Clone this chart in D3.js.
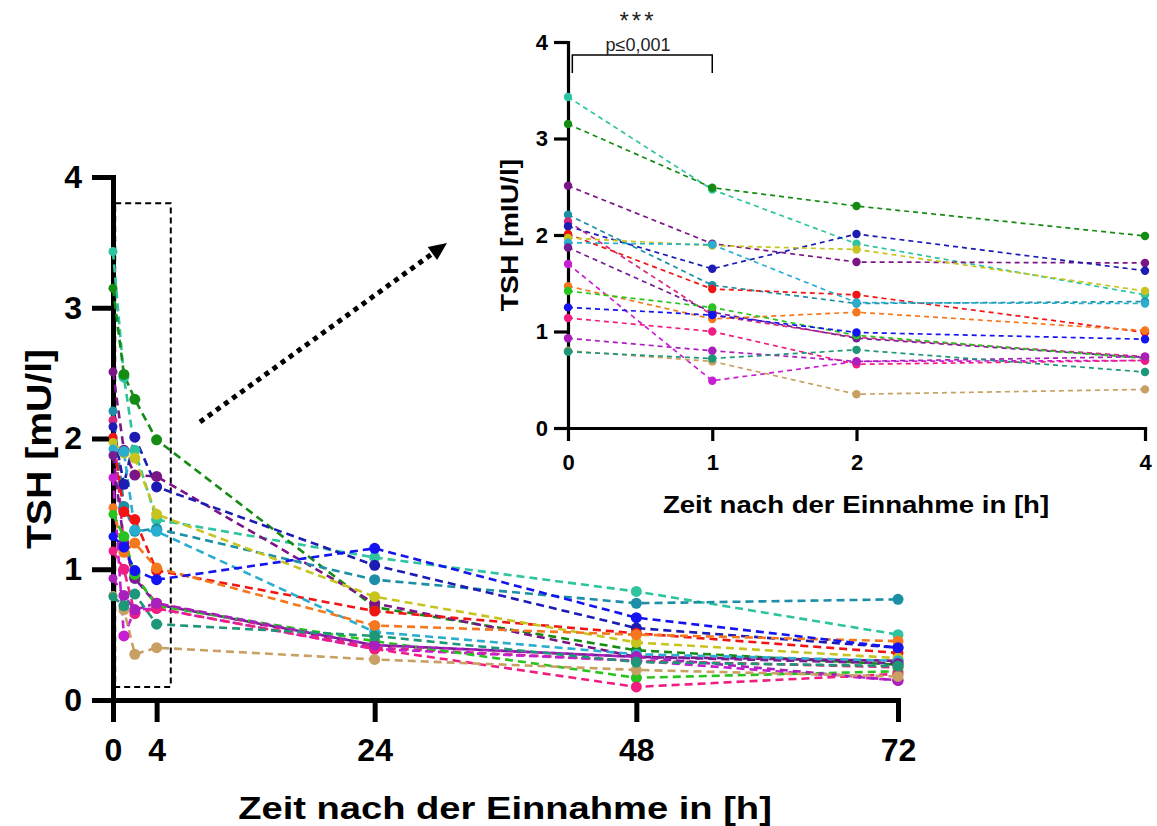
<!DOCTYPE html>
<html>
<head>
<meta charset="utf-8">
<script src="https://cdn.jsdelivr.net/npm/d3@7"></script>
<style>
  body { margin: 0; background: #fff; }
  svg { display: block; }
  text { font-family: "Liberation Sans", Arial, Helvetica, sans-serif; }
</style>
</head>
<body>
<svg id="chart" width="1157" height="826"></svg>
<script>
// Sampling times (hours after intake)
const hours = [0, 1, 2, 4, 24, 48, 72];
const insetHours = [0, 1, 2, 4];
const mainXTicks = [0, 4, 24, 48, 72];
const insetXTicks = [0, 1, 2, 4];
const yTicks = [0, 1, 2, 3, 4];

// One colour per subject
const subjectColors = [
  "#2ec4a0", "#148c14", "#7b1585", "#1b8fa5", "#d6277f", "#1c1cb4",
  "#f01414", "#c8c31e", "#2aaed0", "#781c96", "#c81ed2", "#f5781e",
  "#28c31e", "#1414f0", "#f01e82", "#aa1ebe", "#c8a064", "#1e9678"
];

// TSH [mU/l] per subject at 0, 1, 2, 4, 24, 48, 72 h
const subjectTSH = [
  [3.43, 2.47, 1.91, 1.38, 1.09, 0.83, 0.50],
  [3.15, 2.49, 2.30, 1.99, 0.71, 0.38, 0.27],
  [2.51, 1.91, 1.72, 1.71, 0.74, 0.33, 0.30],
  [2.21, 1.48, 1.29, 1.31, 0.92, 0.74, 0.77],
  [2.14, 1.17, 0.94, 0.74, 0.40, 0.30, 0.25],
  [2.09, 1.65, 2.01, 1.63, 1.03, 0.55, 0.40],
  [2.01, 1.44, 1.38, 0.99, 0.68, 0.51, 0.36],
  [1.97, 1.89, 1.85, 1.42, 0.79, 0.44, 0.32],
  [1.92, 1.90, 1.30, 1.29, 0.52, 0.35, 0.30],
  [1.87, 1.20, 0.93, 0.73, 0.42, 0.33, 0.28],
  [1.70, 0.49, 0.69, 0.70, 0.39, 0.30, 0.15],
  [1.47, 1.13, 1.20, 1.01, 0.57, 0.50, 0.45],
  [1.42, 1.25, 0.96, 0.72, 0.45, 0.17, 0.22],
  [1.25, 1.17, 0.99, 0.92, 1.16, 0.63, 0.40],
  [1.14, 1.00, 0.66, 0.70, 0.39, 0.10, 0.20],
  [0.93, 0.80, 0.69, 0.74, 0.42, 0.33, 0.15],
  [0.80, 0.69, 0.35, 0.40, 0.31, 0.23, 0.18],
  [0.79, 0.72, 0.81, 0.58, 0.49, 0.29, 0.26]
];

const svg = d3.select("#chart");

// ---------- main panel ----------
const x = d3.scaleLinear().domain([0, 72]).range([113, 898]);
const y = d3.scaleLinear().domain([0, 4]).range([700, 177]);

function styleAxis(g, width, fontSize) {
  g.select(".domain").attr("stroke", "#000").attr("stroke-width", width).attr("stroke-linecap", "square");
  g.selectAll(".tick line").attr("stroke", "#000").attr("stroke-width", width);
  g.selectAll(".tick text").attr("fill", "#000").attr("font-size", fontSize).attr("font-weight", "bold");
}

const gx = svg.append("g").attr("transform", `translate(0,${y(0)})`)
  .call(d3.axisBottom(x).tickValues(mainXTicks).tickSize(22).tickSizeOuter(0).tickPadding(16).tickFormat(d3.format("d")));
styleAxis(gx, 5, 32);
const gy = svg.append("g").attr("transform", `translate(${x(0)},0)`)
  .call(d3.axisLeft(y).tickValues(yTicks).tickSize(21).tickSizeOuter(0).tickPadding(10).tickFormat(d3.format("d")));
styleAxis(gy, 5, 32);

// zoom window around the first four hours
svg.append("rect")
  .attr("x", x(0.2)).attr("y", y(3.8))
  .attr("width", x(5.3) - x(0.2)).attr("height", y(0.1) - y(3.8))
  .attr("fill", "none").attr("stroke", "#000").attr("stroke-width", 2).attr("stroke-dasharray", "6,4");

const mainLine = d3.line().x((d, i) => x(hours[i])).y(d => y(d));
const mainSeries = svg.append("g");
subjectTSH.forEach((vals, s) => {
  mainSeries.append("path").attr("d", mainLine(vals))
    .attr("fill", "none").attr("stroke", subjectColors[s])
    .attr("stroke-width", 2.6).attr("stroke-dasharray", "8,5");
});
subjectTSH.forEach((vals, s) => {
  mainSeries.selectAll(null).data(vals).enter().append("circle")
    .attr("cx", (d, i) => x(hours[i])).attr("cy", d => y(d))
    .attr("r", (d, i) => i === 0 ? 4.5 : 5.5).attr("fill", subjectColors[s]);
});

// axis titles (the typeface runs wide along the baseline)
svg.append("text").attr("transform", `translate(505,819) scale(1.23,1)`)
  .attr("text-anchor", "middle").attr("font-size", 31).attr("font-weight", "bold")
  .text("Zeit nach der Einnahme in [h]");
svg.append("text").attr("transform", `translate(51,449) rotate(-90) scale(1.12,1)`)
  .attr("text-anchor", "middle").attr("font-size", 35).attr("font-weight", "bold")
  .text("TSH [mU/l]");

// dotted arrow pointing to the inset
const arrowFrom = [200, 422], arrowTip = [447, 243];
const ang = Math.atan2(arrowTip[1] - arrowFrom[1], arrowTip[0] - arrowFrom[0]);
const headLen = 18, headHalf = 8;
const base = [arrowTip[0] - headLen * Math.cos(ang), arrowTip[1] - headLen * Math.sin(ang)];
svg.append("line")
  .attr("x1", arrowFrom[0]).attr("y1", arrowFrom[1]).attr("x2", base[0]).attr("y2", base[1])
  .attr("stroke", "#000").attr("stroke-width", 5).attr("stroke-dasharray", "5,5");
svg.append("path")
  .attr("d", `M${arrowTip[0]},${arrowTip[1]}
              L${base[0] + headHalf * Math.sin(ang)},${base[1] - headHalf * Math.cos(ang)}
              L${base[0] - headHalf * Math.sin(ang)},${base[1] + headHalf * Math.cos(ang)}Z`)
  .attr("fill", "#000");

// ---------- inset panel (0-4 h) ----------
const xi = d3.scaleLinear().domain([0, 4]).range([568, 1145]);
const yi = d3.scaleLinear().domain([0, 4]).range([428, 42]);

const gxi = svg.append("g").attr("transform", `translate(0,${yi(0)})`)
  .call(d3.axisBottom(xi).tickValues(insetXTicks).tickSize(13).tickSizeOuter(0).tickPadding(13).tickFormat(d3.format("d")));
styleAxis(gxi, 3.2, 22);
const gyi = svg.append("g").attr("transform", `translate(${xi(0)},0)`)
  .call(d3.axisLeft(yi).tickValues(yTicks).tickSize(14).tickSizeOuter(0).tickPadding(6).tickFormat(d3.format("d")));
styleAxis(gyi, 3.2, 22);

const insetLine = d3.line().x((d, i) => xi(insetHours[i])).y(d => yi(d));
const insetSeries = svg.append("g");
subjectTSH.forEach((vals, s) => {
  insetSeries.append("path").attr("d", insetLine(vals.slice(0, insetHours.length)))
    .attr("fill", "none").attr("stroke", subjectColors[s])
    .attr("stroke-width", 1.7).attr("stroke-dasharray", "5,4");
});
subjectTSH.forEach((vals, s) => {
  insetSeries.selectAll(null).data(vals.slice(0, insetHours.length)).enter().append("circle")
    .attr("cx", (d, i) => xi(insetHours[i])).attr("cy", d => yi(d))
    .attr("r", 4.2).attr("fill", subjectColors[s]);
});

svg.append("text").attr("transform", `translate(856,513) scale(1.2,1)`)
  .attr("text-anchor", "middle").attr("font-size", 23).attr("font-weight", "bold")
  .text("Zeit nach der Einnahme in [h]");
svg.append("text").attr("transform", `translate(518,235) rotate(-90) scale(1.18,1)`)
  .attr("text-anchor", "middle").attr("font-size", 24).attr("font-weight", "bold")
  .text("TSH [mIU/l]");

// significance bracket between 0 h and 1 h
const bracketTop = 55, bracketEnd = 73;
svg.append("path")
  .attr("d", `M${xi(0.03)},${bracketEnd} V${bracketTop} H${xi(1)} V${bracketEnd}`)
  .attr("fill", "none").attr("stroke", "#000").attr("stroke-width", 1.5);
svg.append("text").attr("x", 638).attr("y", 29)
  .attr("text-anchor", "middle").attr("fill", "#222")
  .attr("font-size", 24).attr("letter-spacing", 3).text("***");
svg.append("text").attr("x", 638).attr("y", 51)
  .attr("text-anchor", "middle").attr("fill", "#222")
  .attr("font-size", 18).text("p≤0,001");
</script>
</body>
</html>
